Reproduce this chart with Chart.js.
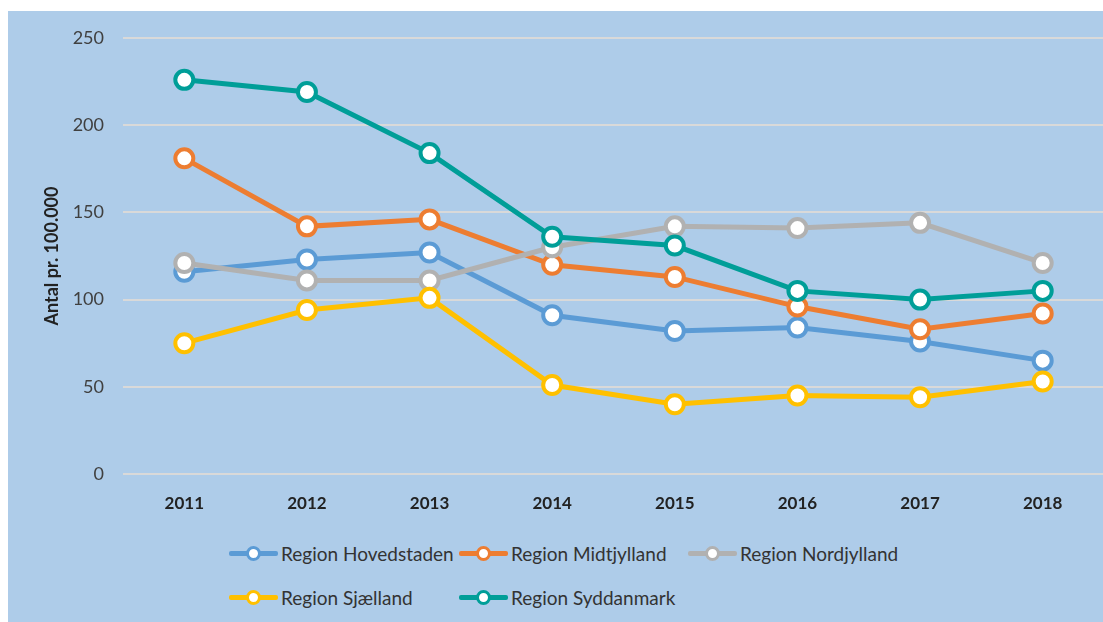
<!DOCTYPE html>
<html lang="da">
<head>
<meta charset="utf-8">
<title>Antal pr. 100.000 - regioner</title>
<script src="https://cdn.jsdelivr.net/npm/chart.js@4"></script>
<style>
    body { margin: 0; background: #fff; font-family: Lato, "Open Sans", sans-serif; }
    #wrap { position: absolute; left: 8px; top: 11px; width: 1095px; height: 611px; background: #aecce9; overflow: hidden; }
    #chart { position: absolute; left: 0; top: 0; }
    .legend-item { position: absolute; display: flex; align-items: center; height: 24px; font-size: 19px; color: #333; white-space: nowrap; }
    .legend-mark { position: relative; width: 49px; height: 5px; margin-right: 3px; border-radius: 2px; }
    .legend-mark span { position: absolute; left: 17px; top: -5px; width: 9px; height: 9px; border-radius: 50%; background: #fff; border: 3px solid; }
</style>
</head>
<body>
<div id="wrap">
    <canvas id="chart" width="1109" height="520"></canvas>
    <div id="legend"></div>
</div>
<script>
// data
const years = ['2011', '2012', '2013', '2014', '2015', '2016', '2017', '2018'];
const regions = ['Region Hovedstaden', 'Region Midtjylland', 'Region Nordjylland', 'Region Sjælland', 'Region Syddanmark'];

const hovedstaden = [116, 123, 127, 91, 82, 84, 76, 65];
const midtjylland = [181, 142, 146, 120, 113, 96, 83, 92];
const nordjylland = [121, 111, 111, 130, 142, 141, 144, 121];
const sjaelland   = [75, 94, 101, 51, 40, 45, 44, 53];
const syddanmark  = [226, 219, 184, 136, 131, 105, 100, 105];

const yTicks = [0, 50, 100, 150, 200, 250];
const colors = ['#5b9bd5', '#ed7d31', '#b1b1b1', '#ffc000', '#009e98'];

const seriesValues = [hovedstaden, midtjylland, nordjylland, sjaelland, syddanmark];

const datasets = regions.map((name, i) => ({
    label: name,
    data: seriesValues[i],
    borderColor: colors[i],
    backgroundColor: '#ffffff',
    borderWidth: 5,
    pointRadius: 9,
    pointHoverRadius: 9,
    pointBorderWidth: 4,
    pointBackgroundColor: '#ffffff',
    pointBorderColor: colors[i],
    tension: 0,
    order: regions.length - i   // senere serier tegnes ovenpå, som i Excel
}));

new Chart(document.getElementById('chart'), {
    type: 'line',
    data: { labels: years, datasets: datasets },
    options: {
        responsive: false,
        animation: false,
        layout: { padding: { top: 27, right: 1, left: 0, bottom: 0 } },
        plugins: { legend: { display: false }, tooltip: { enabled: false } },
        scales: {
            x: {
                offset: true,
                grid: { display: false },
                border: { display: false },
                ticks: { color: '#222', padding: 11, font: { family: 'Lato', size: 17, weight: 'bold' } },
                afterFit: (scale) => { scale.height = 57; }
            },
            y: {
                min: 0,
                max: 250,
                afterBuildTicks: (scale) => { scale.ticks = yTicks.map(v => ({ value: v })); },
                grid: { color: '#d9d9d9', lineWidth: 2, drawTicks: false },
                border: { display: false },
                ticks: { color: '#404040', padding: 19, font: { family: 'Lato', size: 18 } },
                title: {
                    display: true,
                    text: 'Antal pr. 100.000',
                    color: '#222',
                    padding: { top: 33 },
                    font: { family: 'Lato', size: 18, weight: 'bold' }
                },
                afterFit: (scale) => {
                    scale.width = 115;
                    scale.paddingTop = 0;
                    scale.paddingBottom = 0;
                }
            }
        }
    }
});

// legend i to rækker med faste kolonner (som i Excel)
const legendPos = [[221, 530], [451, 530], [680, 530], [221, 574], [451, 574]];
const legendDiv = document.getElementById('legend');
regions.forEach((name, i) => {
    const item = document.createElement('div');
    item.className = 'legend-item';
    item.style.left = legendPos[i][0] + 'px';
    item.style.top = legendPos[i][1] + 'px';
    item.innerHTML = `<div class="legend-mark" style="background:${colors[i]}"><span style="border-color:${colors[i]}"></span></div>${name}`;
    legendDiv.appendChild(item);
});
</script>
</body>
</html>
